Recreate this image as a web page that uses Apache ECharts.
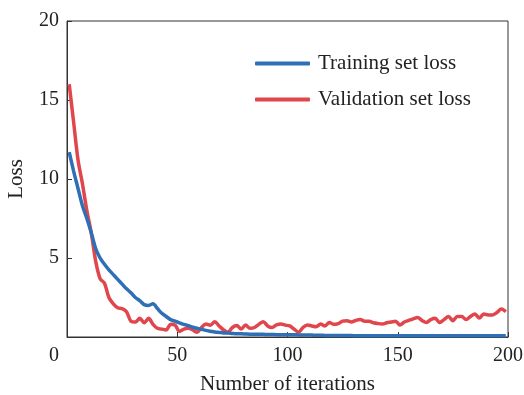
<!DOCTYPE html>
<html><head><meta charset="utf-8">
<script src="https://cdn.jsdelivr.net/npm/echarts@6/dist/echarts.min.js"></script>
<style>html,body{margin:0;padding:0;background:#fff}#c{width:524px;height:395px}</style>
</head><body><div id="c"></div>
<script>
const iterations = [1,3,5,7,9,11,13,15,17,19,21,23,25,27,29,31,33,35,37,39,41,43,45,47,49,51,53,55,57,59,61,63,65,67,69,71,73,75,77,79,81,83,85,87,89,91,93,95,97,99,101,103,105,107,109,111,113,115,117,119,121,123,125,127,129,131,133,135,137,139,141,143,145,147,149,151,153,155,157,159,161,163,165,167,169,171,173,175,177,179,181,183,185,187,189,191,193,195,197,199];
const trainingLoss = [11.7,10.5,9.4,8.3,7.5,6.6,5.6,5.0,4.6,4.25,3.95,3.65,3.35,3.05,2.8,2.5,2.3,2.05,2.0,2.1,1.8,1.5,1.3,1.1,1.0,0.9,0.8,0.72,0.62,0.55,0.48,0.42,0.37,0.32,0.29,0.26,0.25,0.22,0.2,0.2,0.19,0.18,0.18,0.17,0.17,0.16,0.16,0.15,0.15,0.15,0.14,0.14,0.13,0.13,0.12,0.12,0.11,0.11,0.1,0.1,0.1,0.09,0.09,0.09,0.09,0.08,0.08,0.08,0.08,0.08,0.08,0.08,0.08,0.08,0.08,0.08,0.08,0.08,0.08,0.08,0.08,0.08,0.08,0.08,0.08,0.08,0.08,0.08,0.08,0.08,0.08,0.08,0.08,0.08,0.08,0.08,0.08,0.08,0.08,0.08];
const validationLoss = [16.0,13.6,11.2,9.7,8.0,6.6,4.8,3.7,3.4,2.5,2.1,1.85,1.8,1.6,1.0,0.95,1.18,0.9,1.18,0.8,0.55,0.5,0.45,0.8,0.75,0.35,0.5,0.55,0.45,0.3,0.6,0.82,0.75,0.97,0.7,0.45,0.3,0.6,0.72,0.5,0.76,0.55,0.6,0.8,0.97,0.7,0.6,0.76,0.82,0.75,0.7,0.5,0.3,0.6,0.76,0.7,0.65,0.82,0.7,0.92,0.8,0.85,1.0,1.03,0.95,1.05,1.1,1.0,1.0,0.9,0.85,0.82,0.9,0.95,1.0,0.76,0.95,1.05,1.15,1.24,1.05,0.92,1.1,1.18,0.92,1.1,1.3,1.03,1.3,1.3,1.1,1.3,1.45,1.2,1.45,1.4,1.4,1.55,1.77,1.6];
const seriesNames = ['Training set loss','Validation set loss'];
const xTicks = [0,50,100,150,200];
const yTicks = [0,5,10,15,20];

const font = '"Liberation Serif","Times New Roman",serif';
const chart = echarts.init(document.getElementById('c'), null, {renderer:'canvas'});
const pair = arr => iterations.map((x,i)=>[x,arr[i]]);
chart.setOption({
  animation:false,
  grid:{left:67,right:16,top:21,bottom:58,show:true,borderColor:'#333',borderWidth:1,
        containLabel:false,outerBoundsMode:'none'},
  legend:{
    orient:'vertical', left:250, top:48, itemGap:15,
    itemWidth:55, itemHeight:4, icon:'roundRect',
    textStyle:{fontFamily:font,fontSize:21,color:'#222',padding:[0,0,0,3]},
    data:seriesNames
  },
  xAxis:{
    type:'value', min:xTicks[0], max:xTicks[xTicks.length-1], interval:50,
    name:'Number of iterations', nameLocation:'middle', nameGap:37,
    nameTextStyle:{fontFamily:font,fontSize:21,color:'#222'},
    axisLine:{lineStyle:{color:'#333',width:1}},
    axisTick:{inside:true,length:5,lineStyle:{color:'#333'}},
    axisLabel:{fontFamily:font,fontSize:20,color:'#222',margin:9,
      formatter:v => v === xTicks[0] ? '{o|' + v + '}' : String(v),
      rich:{o:{fontFamily:font,fontSize:20,color:'#222',padding:[0,26,0,0]}}},
    splitLine:{show:false}
  },
  yAxis:{
    type:'value', min:yTicks[0], max:yTicks[yTicks.length-1], interval:5,
    name:'Loss', nameLocation:'middle', nameGap:40,
    nameTextStyle:{fontFamily:font,fontSize:21,color:'#222'},
    axisLine:{show:true,lineStyle:{color:'#333',width:1}},
    axisTick:{show:true,inside:true,length:5,lineStyle:{color:'#333'}},
    axisLabel:{fontFamily:font,fontSize:20,color:'#222',margin:8,showMinLabel:false},
    splitLine:{show:false}
  },
  series:[
    {name:seriesNames[0],type:'line',data:pair(trainingLoss),showSymbol:false,smooth:0.3,
     lineStyle:{color:'#2f6fb6',width:3.5},itemStyle:{color:'#2f6fb6'},z:3},
    {name:seriesNames[1],type:'line',data:pair(validationLoss),showSymbol:false,smooth:0.3,
     lineStyle:{color:'#e0464c',width:3.5},itemStyle:{color:'#e0464c'},z:2}
  ]
});
</script></body></html>
